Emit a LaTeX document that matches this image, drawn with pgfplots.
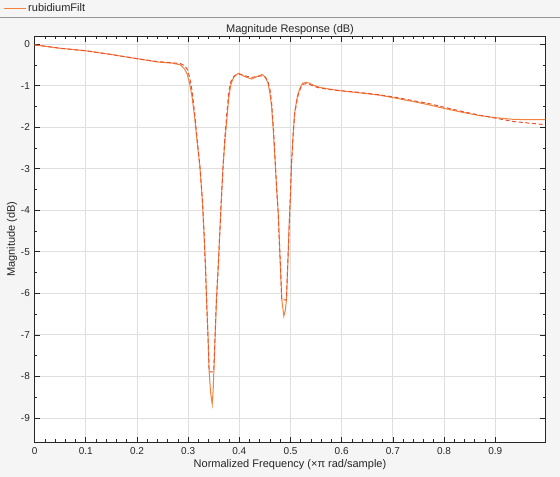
\documentclass[border=0pt]{standalone}
\usepackage{pgfplots}
\pgfplotsset{compat=1.18}
\usepackage{fontspec}
\setmainfont{Liberation Sans}
\definecolor{figbg}{RGB}{245,245,245}
\definecolor{axcol}{RGB}{38,38,38}
\definecolor{gridcol}{RGB}{223,223,223}
\definecolor{solidc}{RGB}{242,130,60}
\definecolor{dashc}{RGB}{238,82,50}
\definecolor{sepcol}{RGB}{150,150,150}
\begin{document}
\begin{tikzpicture}
\useasboundingbox (0,0) rectangle (420pt,357.75pt);
\fill[figbg] (0,0) rectangle (420pt,357.75pt);
\draw[sepcol, line width=0.75pt] (0,344.6pt) -- (420pt,344.6pt);
\begin{axis}[
  at={(25.95pt,26.25pt)}, anchor=south west,
  scale only axis, width=383.1pt, height=304pt,
  xmin=0, xmax=0.998, ymin=-9.58, ymax=0.18,
  axis background/.style={fill=white},
  axis line style={axcol, line width=0.6pt},
  every tick/.style={axcol, line width=0.5pt},
  tick align=inside,
  major tick length=3.75pt, minor tick length=2pt,
  xtick={0,0.1,0.2,0.3,0.4,0.5,0.6,0.7,0.8,0.9},
  xticklabels={0,0.1,0.2,0.3,0.4,0.5,0.6,0.7,0.8,0.9},
  ytick={-9,-8,-7,-6,-5,-4,-3,-2,-1,0},
  yticklabels={-9,-8,-7,-6,-5,-4,-3,-2,-1,0},
  minor x tick num=4, minor y tick num=1,
  grid=major, major grid style={gridcol, line width=0.6pt},
  ticklabel style={font=\fontsize{7.5pt}{9pt}\selectfont, text=axcol},
  xticklabel style={yshift=-0.5pt},
  label style={font=\fontsize{8.25pt}{10pt}\selectfont, text=axcol},
  xlabel={Normalized Frequency (×π rad/sample)},
  ylabel={Magnitude (dB)},
  xlabel style={at={(axis description cs:0.5,-0.057)}, anchor=center},
  ylabel style={at={(axis description cs:-0.0442,0.5)}, anchor=center, rotate=0},
  title={Magnitude Response (dB)},
  every axis title shift=0pt,
  title style={at={(axis description cs:0.5,1.0165)}, anchor=center, font=\fontsize{8.25pt}{10pt}\selectfont, text=axcol},
  legend style={at={(axis description cs:-0.0619,1.0696)}, anchor=west, draw=none, fill=none, inner sep=0pt, font=\fontsize{8.25pt}{10pt}\selectfont, text=axcol, nodes={inner sep=1.5pt}},
  legend image code/.code={\draw[#1] (0pt,0pt) -- (16.5pt,0pt);},
]
\addplot[solidc, line width=0.75pt] coordinates {
(0,-0.02) (0.02,-0.05) (0.05,-0.10) (0.1,-0.16) (0.15,-0.25) (0.2,-0.35) (0.24,-0.43) (0.27,-0.46) (0.285,-0.50) (0.293,-0.60)
(0.298,-0.72) (0.303,-0.95) (0.308,-1.3) (0.313,-1.8) (0.318,-2.4) (0.323,-2.95) (0.328,-3.8) (0.331,-4.55) (0.334,-5.4) (0.336,-6.16)
(0.339,-7.1) (0.341,-7.89) (0.344,-8.4) (0.347,-8.67) (0.349,-8.3) (0.351,-7.6) (0.3553,-6.16) (0.359,-5.3) (0.3618,-4.55) (0.365,-3.7)
(0.3682,-2.95) (0.372,-2.3) (0.375,-1.9) (0.3793,-1.3) (0.383,-1.0) (0.387,-0.85) (0.391,-0.76) (0.399,-0.70) (0.41,-0.78) (0.424,-0.84)
(0.435,-0.78) (0.445,-0.73) (0.451,-0.80) (0.456,-0.94) (0.460,-1.2) (0.463,-1.5) (0.467,-2.2) (0.470,-2.85) (0.473,-3.5) (0.476,-4.07)
(0.480,-5.28) (0.483,-6.16) (0.487,-6.55) (0.490,-6.4) (0.492,-6.16) (0.495,-5.2) (0.497,-4.47) (0.500,-3.6) (0.502,-2.87) (0.505,-2.2)
(0.508,-1.66) (0.512,-1.35) (0.515,-1.18) (0.520,-1.02) (0.524,-0.94) (0.531,-0.92) (0.537,-0.94) (0.545,-0.99) (0.557,-1.04) (0.575,-1.08)
(0.596,-1.12) (0.625,-1.16) (0.654,-1.20) (0.674,-1.23) (0.705,-1.30) (0.739,-1.38) (0.77,-1.46) (0.797,-1.54) (0.835,-1.64) (0.869,-1.72)
(0.90,-1.77) (0.934,-1.81) (0.965,-1.82) (0.998,-1.82)
};
\addlegendentry{rubidiumFilt}
\addplot[dashc, line width=0.75pt, dash pattern=on 3pt off 2pt, forget plot] coordinates {
(0,-0.02) (0.02,-0.05) (0.05,-0.10) (0.1,-0.16) (0.15,-0.25) (0.2,-0.35) (0.24,-0.42) (0.27,-0.45) (0.285,-0.47) (0.293,-0.52)
(0.298,-0.60) (0.303,-0.80) (0.308,-1.15) (0.313,-1.7) (0.318,-2.35) (0.323,-2.95) (0.328,-3.8) (0.331,-4.55) (0.334,-5.4) (0.336,-6.16)
(0.339,-7.1) (0.341,-7.89) (0.350,-7.89) (0.351,-7.6) (0.3553,-6.16) (0.359,-5.3) (0.3618,-4.55) (0.365,-3.7)
(0.3682,-2.95) (0.372,-2.2) (0.375,-1.75) (0.3793,-1.15) (0.383,-0.92) (0.387,-0.82) (0.391,-0.76) (0.399,-0.72) (0.41,-0.76) (0.424,-0.80)
(0.435,-0.78) (0.445,-0.76) (0.451,-0.80) (0.456,-0.90) (0.460,-1.1) (0.463,-1.4) (0.467,-2.1) (0.470,-2.8) (0.473,-3.5) (0.476,-4.07)
(0.480,-5.28) (0.483,-6.16) (0.492,-6.16) (0.495,-5.2) (0.497,-4.47) (0.500,-3.6) (0.502,-2.87) (0.505,-2.2)
(0.508,-1.7) (0.512,-1.40) (0.515,-1.22) (0.520,-1.05) (0.524,-0.97) (0.531,-0.95) (0.537,-0.97) (0.545,-1.01) (0.557,-1.06) (0.575,-1.09)
(0.596,-1.12) (0.625,-1.15) (0.654,-1.19) (0.674,-1.22) (0.705,-1.28) (0.739,-1.36) (0.77,-1.43) (0.797,-1.51) (0.835,-1.62) (0.869,-1.71)
(0.90,-1.78) (0.934,-1.86) (0.965,-1.90) (0.998,-1.94)
};
\end{axis}
\end{tikzpicture}
\end{document}
